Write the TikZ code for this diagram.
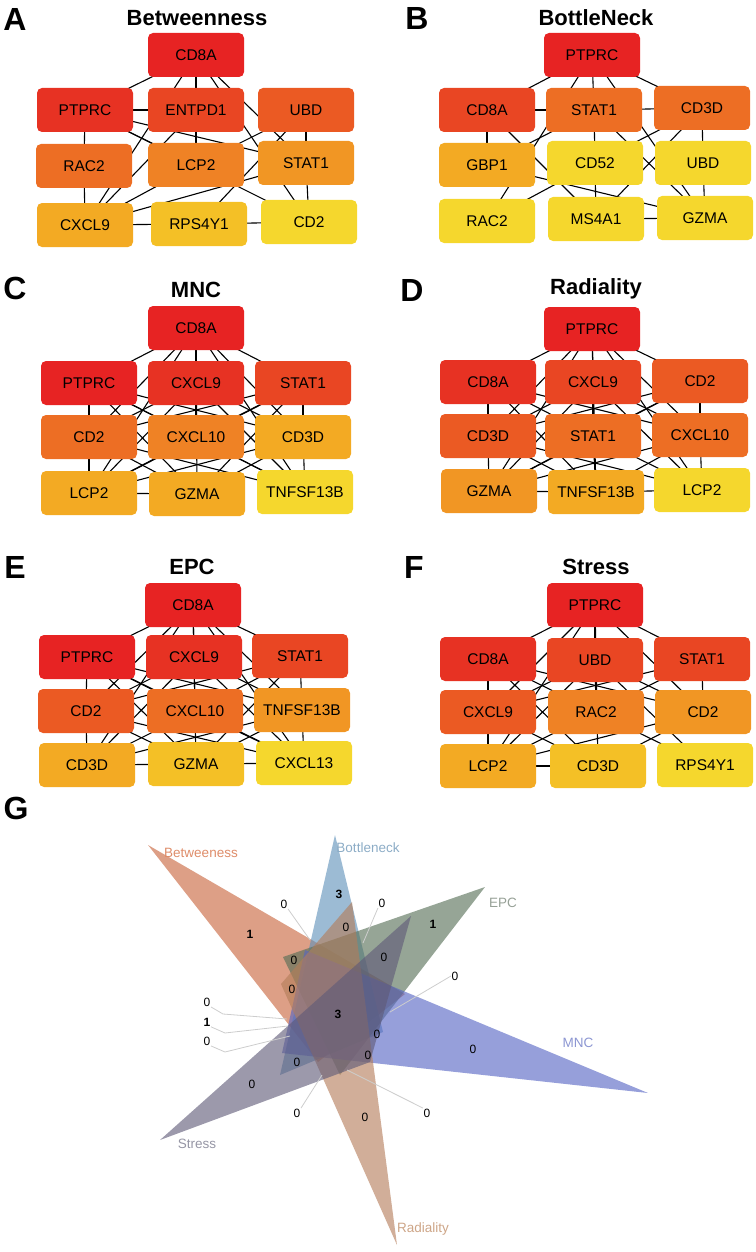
\documentclass[tikz,border=0pt]{standalone}
\usepackage{fontspec}
\setmainfont{Liberation Sans}
\usetikzlibrary{backgrounds}
\definecolor{lv0}{RGB}{231,35,35}
\definecolor{lv1}{RGB}{231,50,35}
\definecolor{lv2}{RGB}{233,70,35}
\definecolor{lv3}{RGB}{235,90,35}
\definecolor{lv4}{RGB}{237,110,36}
\definecolor{lv5}{RGB}{239,130,37}
\definecolor{lv6}{RGB}{241,150,36}
\definecolor{lv7}{RGB}{243,170,35}
\definecolor{lv8}{RGB}{244,192,38}
\definecolor{lv9}{RGB}{245,215,45}
\definecolor{cBet}{RGB}{200,100,60}
\definecolor{cBot}{RGB}{95,145,185}
\definecolor{cEPC}{RGB}{85,110,85}
\definecolor{cMNC}{RGB}{85,100,195}
\definecolor{cRad}{RGB}{180,125,90}
\definecolor{cStr}{RGB}{95,90,120}
\definecolor{tBet}{RGB}{222,140,105}
\definecolor{tBot}{RGB}{140,172,198}
\definecolor{tEPC}{RGB}{150,160,150}
\definecolor{tMNC}{RGB}{140,150,210}
\definecolor{tRad}{RGB}{205,165,135}
\definecolor{tStr}{RGB}{150,150,165}
\definecolor{leadc}{RGB}{205,205,205}
\begin{document}
\begin{tikzpicture}[x=1pt,y=-1pt,
  gn/.style={rounded corners=5pt, minimum width=96pt, minimum height=44pt, inner sep=0pt, font=\fontsize{15.5}{15.5}\selectfont},
  edge/.style={line width=1.1pt, black},
  ttl/.style={font=\fontsize{22}{22}\selectfont\bfseries, inner sep=0pt},
  lett/.style={font=\fontsize{32}{32}\selectfont\bfseries, inner sep=0pt},
  vl/.style={font=\fontsize{13.5}{13.5}\selectfont, inner sep=0pt},
  vn/.style={font=\fontsize{12}{12}\selectfont, inner sep=0.5pt},
  vb/.style={font=\fontsize{12}{12}\selectfont\bfseries, inner sep=0.5pt},
  lead/.style={leadc, line width=0.8pt},
  tri/.style={fill opacity=0.62, draw=none}]
\useasboundingbox (0,0) rectangle (755,1252);

% ---------------- Panel A ----------------
\node[lett] (LA) at (15,19) {A};
\node[ttl] (TA) at (197,18) {Betweenness};
\foreach \p/\n/\x/\y/\c in {T/CD8A/196/55/0, L1/PTPRC/85/110/1, M1/ENTPD1/196/110/2, R1/UBD/306/110/3,
  L2/RAC2/84/166/4, M2/LCP2/196/165/5, R2/STAT1/306/163/6, L3/CXCL9/85/225/7, M3/RPS4Y1/199/224/8, R3/CD2/309/222/9}
  \node[gn, fill=lv\c] (A-\p) at (\x,\y) {\n};
\begin{pgfonlayer}{background}
\foreach \a/\b in {T/L1, T/M1, T/L3, T/R2, T/R3, L1/M1, L1/L2, L1/M2, L1/R2, L1/R3, M1/L3, M1/M2,
  R1/R2, R1/M2, R1/M3, L2/L3, L3/M2, L3/R2, L3/M3, M3/R3, R2/R3}
  \draw[edge] (A-\a.center) -- (A-\b.center);
\end{pgfonlayer}

% ---------------- Panel B ----------------
\node[lett] (LB) at (417,18) {B};
\node[ttl] (TB) at (596,18) {BottleNeck};
\foreach \p/\n/\x/\y/\c in {T/PTPRC/592/55/0, L1/CD8A/487/110/2, M1/STAT1/594/110/4, R1/CD3D/702/108/4,
  L2/GBP1/487/165/7, M2/CD52/595/163/9, R2/UBD/703/163/9, L3/RAC2/487/221/9, M3/MS4A1/596/219/9, R3/GZMA/705/218/9}
  \node[gn, fill=lv\c] (B-\p) at (\x,\y) {\n};
\begin{pgfonlayer}{background}
\foreach \a/\b in {T/L1, T/M1, T/L3, T/R3, T/R1, L1/M1, M1/R1, L1/L2, L1/M3, L2/M1, R1/M2, R1/R2, R1/M3,
  M1/R3, M1/M2, M2/L3, M2/M3, L2/R3, R2/R3, M3/R3}
  \draw[edge] (B-\a.center) -- (B-\b.center);
\end{pgfonlayer}

% ---------------- Panel C ----------------
\node[lett] (LC) at (15,288) {C};
\node[ttl] (TC) at (196,290) {MNC};
\foreach \p/\n/\x/\y/\c in {T/CD8A/196/328/0, L1/PTPRC/89/383/0, M1/CXCL9/196/383/1, R1/STAT1/303/383/2,
  L2/CD2/89/437/4, M2/CXCL10/196/437/5, R2/CD3D/303/437/7, L3/LCP2/89/493/7, M3/GZMA/197/494/7, R3/TNFSF13B/305/492/9}
  \node[gn, fill=lv\c] (C-\p) at (\x,\y) {\n};
\begin{pgfonlayer}{background}
\foreach \a/\b in {T/L1, T/M1, T/R1, T/L2, T/R2, T/L3, T/R3, T/M3,
  L1/L2, L1/M2, L1/R2, L1/M3, L1/R3, M1/L2, M1/R2, M1/M2, M1/L3, M1/R3,
  R1/R2, R1/M2, R1/L2, R1/M3, R1/L3, L2/L3, L2/M3, L2/R3, M2/L3, M2/R3,
  R2/L3, R2/M3, R2/R3, L3/M3}
  \draw[edge] (C-\a.center) -- (C-\b.center);
\end{pgfonlayer}

% ---------------- Panel D ----------------
\node[lett] (LD) at (412,290) {D};
\node[ttl] (TD) at (596,289) {Radiality};
\foreach \p/\n/\x/\y/\c in {T/PTPRC/592/329/0, L1/CD8A/488/382/1, M1/CXCL9/593/382/2, R1/CD2/700/381/3,
  L2/CD3D/488/436/3, M2/STAT1/593/436/4, R2/CXCL10/700/435/4, L3/GZMA/489/491/6, M3/TNFSF13B/596/492/7, R3/LCP2/702/490/9}
  \node[gn, fill=lv\c] (D-\p) at (\x,\y) {\n};
\begin{pgfonlayer}{background}
\foreach \a/\b in {T/L1, T/M1, T/R1, T/L2, T/R2, T/L3, T/R3, T/M3,
  L1/L2, L1/M2, L1/R2, L1/M3, M1/L2, M1/R2, M1/M2, M1/L3, M1/R3,
  R1/R2, R1/M2, R1/L2, R1/L3, L2/L3, L2/M3, L2/R3, M2/L3, M2/R3, M2/M3,
  R2/L3, R2/M3, R2/R3, L3/M3, M3/R3}
  \draw[edge] (D-\a.center) -- (D-\b.center);
\end{pgfonlayer}

% ---------------- Panel E ----------------
\node[lett] (LE) at (15,567) {E};
\node[ttl] (TE) at (192,567) {EPC};
\foreach \p/\n/\x/\y/\c in {T/CD8A/193/605/0, L1/PTPRC/87/657/0, M1/CXCL9/194/657/1, R1/STAT1/300/656/2,
  L2/CD2/86/711/3, M2/CXCL10/195/711/4, R2/TNFSF13B/302/710/6, L3/CD3D/87/765/7, M3/GZMA/196/764/8, R3/CXCL13/304/763/9}
  \node[gn, fill=lv\c] (E-\p) at (\x,\y) {\n};
\begin{pgfonlayer}{background}
\foreach \a/\b in {T/L1, T/M1, T/R1, T/L2, T/R2, T/L3, T/R3, T/M3,
  L1/L2, L1/M2, L1/R2, L1/M3, L1/R3, M1/L2, M1/R2, M1/M2, M1/L3, M1/R3,
  R1/R2, R1/M2, R1/L2, R1/M3, L2/L3, L2/M3, L2/R3, M2/L3, M2/R3,
  R2/L3, R2/M3, R2/R3, L3/M3, M3/R3}
  \draw[edge] (E-\a.center) -- (E-\b.center);
\end{pgfonlayer}

% ---------------- Panel F ----------------
\node[lett] (LF) at (414,567) {F};
\node[ttl] (TF) at (596,567) {Stress};
\foreach \p/\n/\x/\y/\c in {T/PTPRC/595/605/0, L1/CD8A/488/659/1, M1/UBD/595/660/2, R1/STAT1/702/659/2,
  L2/CXCL9/488/712/3, M2/RAC2/596/712/5, R2/CD2/703/712/6, L3/LCP2/488/766/7, M3/CD3D/598/766/8, R3/RPS4Y1/705/765/9}
  \node[gn, fill=lv\c] (F-\p) at (\x,\y) {\n};
\begin{pgfonlayer}{background}
\foreach \a/\b in {T/L1, T/M1, T/R1, T/L2, T/R2, T/M3, T/L3,
  L1/L2, L1/M2, L1/R2, L1/M3, M1/L2, M1/R2, M1/M2, M1/L3, M1/R3,
  R1/R2, R1/M2, R1/L2, L2/L3, L2/M3, M2/L3, M2/R3,
  R2/L3, R2/M3, L3/M3}
  \draw[edge] (F-\a.center) -- (F-\b.center);
\end{pgfonlayer}

% ---------------- Panel G ----------------
\node[lett] (LG) at (16,808) {G};
\fill[tri, cBet] (148,845) -- (405,994) -- (318,1062) -- cycle;
\fill[tri, cBot] (335,835) -- (280,1075) -- (383,1032) -- cycle;
\fill[tri, cEPC] (485,887) -- (283,957) -- (340,1075) -- cycle;
\fill[tri, cMNC] (648,1093) -- (305,950) -- (282,1053) -- cycle;
\fill[tri, cRad] (397,1245) -- (281,984) -- (352,902) -- cycle;
\fill[tri, cStr] (160,1140) -- (411,916) -- (370,1062) -- cycle;

\node[vl, text=tBet] (nBet) at (201,853) {Betweeness};
\node[vl, text=tBot] (nBot) at (368,848) {Bottleneck};
\node[vl, text=tEPC] (nEPC) at (503,903) {EPC};
\node[vl, text=tMNC] (nMNC) at (578,1043) {MNC};
\node[vl, text=tRad] (nRad) at (423,1229) {Radiality};
\node[vl, text=tStr] (nStr) at (197,1144) {Stress};

\node[vb] (v1) at (339,894) {3};
\node[vn] (v2) at (284,904) {0};
\node[vn] (v3) at (382,903) {0};
\node[vb] (v4) at (433,924) {1};
\node[vb] (v5) at (250,934) {1};
\node[vn] (v6) at (346,927) {0};
\node[vn] (v7) at (294,960) {0};
\node[vn] (v8) at (384,957) {0};
\node[vn] (v9) at (292,989) {0};
\node[vb] (v10) at (338,1014) {3};
\node[vn] (v11) at (207,1002) {0};
\node[vb] (v12) at (207,1022) {1};
\node[vn] (v13) at (207,1041) {0};
\node[vn] (v14) at (377,1034) {0};
\node[vn] (v15) at (368,1055) {0};
\node[vn] (v16) at (297,1062) {0};
\node[vn] (v17) at (252,1084) {0};
\node[vn] (v18) at (297,1113) {0};
\node[vn] (v19) at (365,1117) {0};
\node[vn] (v20) at (427,1113) {0};
\node[vn] (v21) at (455,976) {0};
\node[vn] (v22) at (473,1049) {0};

\coordinate (e2) at (310,940);
\coordinate (e3) at (363,943);
\coordinate (e11) at (287,1019);
\coordinate (e12) at (288,1026);
\coordinate (e13) at (290,1036);
\coordinate (e18) at (322,1075);
\coordinate (e20) at (347,1070);
\coordinate (e21) at (390,1012);
\draw[lead] (v2.south east) -- (e2);
\draw[lead] (v3.south west) -- (e3);
\draw[lead] (v11.south east) -- (223,1014) -- (e11);
\draw[lead] (v12.south east) -- (225,1033) -- (e12);
\draw[lead] (v13.south east) -- (225,1052) -- (e13);
\draw[lead] (v18.north east) -- (e18);
\draw[lead] (v20.north west) -- (e20);
\draw[lead] (v21.west) -- (e21);
\end{tikzpicture}
\end{document}
